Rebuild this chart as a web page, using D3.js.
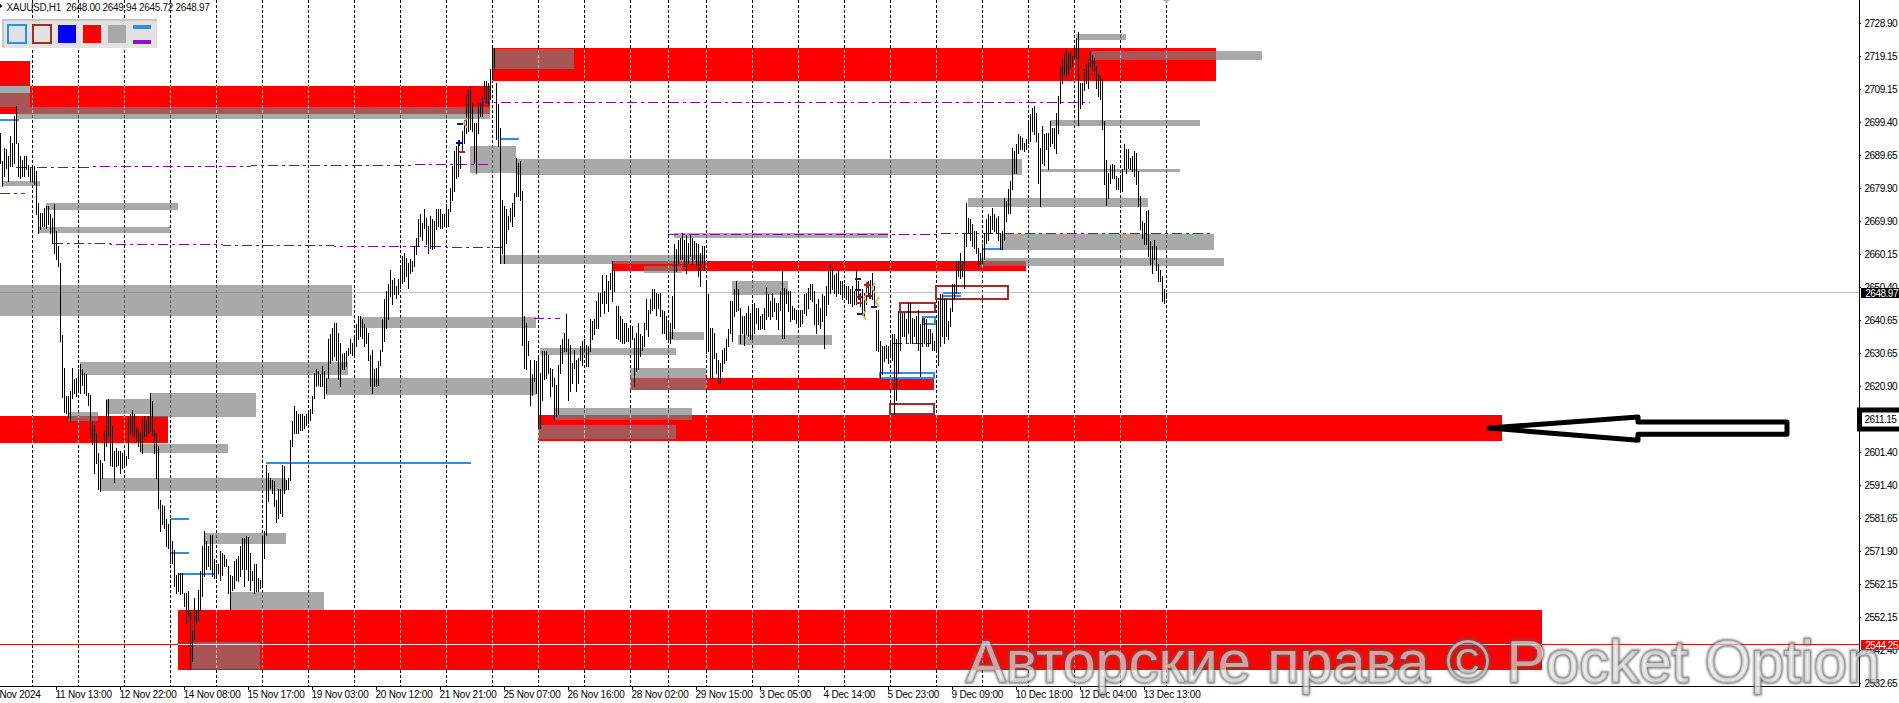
<!DOCTYPE html>
<html><head><meta charset="utf-8">
<script src="https://cdn.jsdelivr.net/npm/d3@7"></script>
<style>
html,body{margin:0;padding:0;background:#fff;overflow:hidden}
svg{display:block}
text{font-family:"Liberation Sans",Arial,sans-serif}
</style></head><body>
<script>
const barHigh=[2696.3,2687.8,2691.8,2691.3,2689.3,2695.3,2693.3,2701.2,2704.2,2693.1,2689.3,2688.3,2689.3,2689.3,2686.8,2685.8,2686.3,2686.3,2684.9,2675.4,
2672.5,2672.5,2674.0,2674.5,2674.5,2672.0,2671.0,2675.2,2667.0,2662.6,2657.6,2636.0,2626.4,2618.1,2617.9,2619.4,2626.4,2622.9,2623.4,2625.9,
2627.4,2625.9,2624.9,2624.4,2618.9,2618.4,2610.5,2609.5,2607.0,2601.1,2599.1,2598.1,2607.5,2616.9,2617.1,2612.0,2609.0,2601.6,2602.6,2601.6,
2601.6,2601.1,2601.1,2600.1,2611.5,2612.5,2613.7,2612.5,2608.5,2608.0,2607.0,2611.5,2612.0,2611.0,2612.0,2618.9,2616.4,2608.0,2607.0,2603.1,
2587.2,2585.7,2585.2,2581.3,2579.8,2581.5,2574.8,2572.3,2564.9,2565.4,2565.4,2565.4,2559.5,2559.5,2560.0,2554.5,2548.1,2558.0,2554.5,2560.4,
2565.9,2573.3,2577.8,2574.8,2573.3,2576.8,2576.8,2569.4,2567.9,2567.9,2571.8,2571.3,2570.8,2569.4,2567.4,2564.9,2564.4,2568.9,2569.4,2570.4,
2573.3,2575.8,2575.8,2576.3,2576.1,2571.3,2565.9,2567.9,2567.9,2563.9,2563.4,2576.3,2577.8,2597.6,2595.1,2593.6,2593.1,2592.7,2587.2,2590.2,
2590.2,2597.6,2597.1,2593.1,2593.6,2605.0,2610.5,2615.0,2613.5,2612.5,2612.5,2612.5,2612.0,2612.5,2613.5,2614.0,2617.9,2624.9,2625.9,2625.4,
2624.4,2626.8,2625.4,2623.4,2634.8,2636.3,2638.3,2639.6,2639.6,2636.8,2633.8,2630.5,2630.8,2631.5,2632.3,2634.8,2633.8,2635.8,2639.3,2641.8,
2641.8,2640.8,2639.3,2638.3,2636.8,2630.3,2631.8,2625.9,2626.4,2628.3,2631.8,2640.8,2646.7,2649.2,2651.2,2655.6,2652.6,2653.2,2650.7,2652.7,
2656.6,2659.6,2660.6,2659.1,2657.6,2658.6,2658.1,2662.6,2665.0,2670.5,2672.0,2669.5,2673.7,2671.0,2668.5,2671.5,2670.5,2670.0,2673.5,2673.5,
2673.7,2672.0,2672.0,2675.0,2673.5,2679.9,2686.3,2690.8,2692.3,2693.8,2689.3,2696.8,2700.2,2707.7,2709.1,2710.1,2705.2,2699.2,2699.2,2705.2,
2705.2,2707.2,2711.6,2711.6,2711.1,2715.1,2722.0,2721.5,2711.1,2704.7,2697.8,2676.4,2674.5,2673.5,2671.5,2674.0,2675.4,2678.4,2688.8,2687.3,
2688.0,2678.9,2641.8,2639.8,2634.3,2628.8,2624.4,2628.8,2628.3,2629.3,2624.9,2631.3,2631.3,2631.3,2630.3,2626.4,2625.9,2623.4,2621.4,2627.3,
2633.3,2634.8,2636.8,2642.3,2634.8,2633.3,2627.8,2631.8,2628.8,2629.3,2632.8,2634.3,2634.8,2633.3,2632.8,2640.8,2640.3,2640.8,2646.2,2648.7,
2648.7,2654.1,2649.2,2654.1,2652.2,2654.6,2658.1,2655.1,2644.7,2644.7,2641.8,2640.8,2639.8,2639.8,2638.3,2638.8,2638.8,2635.3,2636.8,2639.8,
2636.3,2635.8,2639.8,2646.7,2643.7,2646.7,2649.7,2649.7,2648.7,2648.2,2648.7,2643.7,2643.2,2641.8,2639.8,2639.8,2647.7,2663.1,2661.6,2664.5,
2665.0,2666.5,2664.5,2666.0,2663.6,2666.0,2665.0,2664.0,2663.6,2663.1,2660.6,2662.6,2662.6,2652.6,2648.2,2638.3,2638.3,2636.8,2630.8,2628.8,
2627.8,2631.8,2632.3,2634.8,2637.8,2646.2,2646.2,2649.7,2652.2,2649.7,2644.2,2641.8,2641.8,2642.7,2644.7,2642.7,2645.2,2645.7,2644.2,2644.2,
2641.8,2642.3,2644.2,2650.5,2648.2,2646.2,2648.7,2647.2,2645.7,2645.7,2649.2,2655.8,2650.2,2649.7,2649.2,2649.2,2644.7,2644.2,2643.7,2643.2,
2643.7,2643.7,2648.2,2648.7,2650.2,2651.2,2651.2,2649.2,2645.2,2646.7,2644.2,2648.2,2647.7,2650.7,2655.1,2657.1,2656.1,2654.1,2654.6,2655.4,
2652.2,2652.2,2651.2,2650.7,2650.7,2649.7,2650.7,2649.2,2655.8,2652.2,2648.7,2649.7,2648.7,2651.2,2652.2,2652.6,2654.6,2650.7,2643.7,2643.7,
2634.3,2632.8,2632.8,2633.3,2632.8,2633.8,2636.3,2636.3,2634.8,2643.2,2642.7,2642.7,2642.7,2640.8,2645.7,2645.7,2641.3,2640.8,2641.8,2643.7,
2639.3,2641.3,2641.3,2640.8,2637.8,2637.8,2636.8,2634.3,2639.8,2646.2,2648.2,2648.2,2646.7,2646.7,2640.3,2644.2,2651.2,2651.2,2658.1,2658.1,
2660.6,2658.1,2666.5,2675.4,2671.0,2670.5,2669.0,2667.0,2667.0,2662.1,2660.6,2663.1,2666.5,2670.5,2672.0,2671.5,2674.0,2672.0,2671.0,2671.5,
2666.5,2667.0,2676.9,2675.9,2679.4,2681.9,2691.8,2690.8,2692.8,2695.8,2695.3,2694.8,2693.3,2694.5,2699.2,2701.7,2703.7,2704.2,2702.2,2696.3,
2691.8,2698.2,2695.8,2696.3,2696.3,2699.7,2697.8,2697.8,2702.2,2707.2,2716.1,2718.6,2720.0,2721.2,2720.0,2720.5,2719.1,2721.5,2724.5,2726.3,
2711.1,2711.1,2715.1,2716.6,2718.1,2720.5,2719.5,2718.6,2716.1,2713.6,2713.1,2712.1,2699.7,2688.3,2684.4,2686.8,2687.1,2686.8,2683.4,2682.9,
2682.9,2685.4,2692.8,2691.3,2691.3,2688.8,2689.3,2690.8,2690.3,2684.9,2677.4,2670.0,2669.5,2673.0,2673.3,2664.0,2662.6,2664.5,2662.6,2657.1,
2655.6,2653.6,2649.9,2648.7];
const barLow=[2687.3,2680.4,2683.4,2685.9,2681.9,2686.4,2686.4,2687.3,2693.3,2683.4,2682.9,2683.4,2683.4,2685.4,2683.4,2681.9,2681.9,2680.9,2672.0,2666.5,
2667.5,2668.5,2668.5,2668.0,2669.0,2666.5,2663.6,2660.6,2658.6,2656.6,2634.3,2617.6,2613.2,2613.0,2611.5,2610.5,2617.4,2618.9,2617.9,2619.4,
2618.9,2621.4,2618.9,2618.4,2615.4,2605.5,2603.6,2595.1,2598.1,2590.4,2589.7,2593.6,2599.1,2603.1,2606.0,2597.6,2597.1,2592.4,2597.1,2597.6,
2595.1,2596.6,2597.1,2597.6,2599.6,2607.0,2606.5,2606.0,2604.6,2603.1,2601.6,2601.1,2606.0,2606.0,2607.0,2607.5,2606.5,2601.1,2593.6,2584.7,
2577.8,2579.8,2578.8,2573.3,2572.8,2568.4,2568.4,2561.4,2559.5,2560.0,2559.0,2559.5,2555.5,2550.5,2552.5,2536.9,2539.1,2545.6,2550.5,2551.5,
2554.5,2558.5,2564.4,2566.4,2567.4,2566.4,2564.4,2563.9,2563.9,2565.4,2563.4,2564.9,2567.4,2567.4,2559.5,2554.5,2560.4,2560.9,2563.4,2562.9,
2564.4,2566.4,2561.4,2566.4,2563.4,2560.4,2563.4,2559.5,2560.0,2560.0,2560.9,2561.4,2569.9,2576.8,2586.7,2590.7,2589.2,2585.2,2580.5,2581.8,
2583.2,2582.2,2589.2,2590.2,2590.2,2592.9,2603.1,2607.0,2607.0,2607.0,2608.0,2608.0,2608.5,2609.5,2610.0,2611.0,2613.0,2617.4,2620.9,2621.4,
2620.9,2620.9,2617.4,2618.9,2623.4,2627.8,2628.8,2629.8,2628.8,2622.9,2620.9,2625.9,2625.9,2626.8,2630.3,2630.8,2630.3,2630.0,2632.8,2634.8,
2635.8,2635.3,2632.8,2633.8,2628.8,2620.9,2618.9,2620.9,2620.9,2621.4,2627.3,2631.3,2634.3,2638.3,2640.8,2647.7,2645.2,2648.2,2647.2,2648.2,
2650.2,2651.7,2652.2,2653.6,2650.2,2654.6,2655.1,2656.6,2660.1,2662.6,2665.5,2664.5,2668.0,2663.1,2660.6,2662.1,2661.6,2662.1,2667.5,2668.5,
2668.0,2668.0,2668.5,2668.5,2668.5,2673.0,2676.4,2678.9,2682.9,2683.4,2685.9,2690.5,2693.3,2696.3,2696.8,2697.3,2696.8,2687.3,2684.4,2696.3,
2701.2,2701.2,2706.7,2705.2,2704.7,2706.2,2712.1,2715.1,2694.3,2692.3,2657.6,2660.6,2657.6,2663.6,2667.5,2670.0,2668.5,2671.5,2677.4,2677.4,
2676.4,2633.3,2626.4,2625.9,2630.3,2615.4,2618.4,2622.4,2618.9,2608.5,2608.5,2616.9,2622.9,2623.4,2624.9,2617.9,2620.9,2611.0,2612.0,2612.5,
2624.9,2627.8,2631.3,2631.3,2616.9,2619.4,2621.9,2626.4,2619.4,2621.9,2628.8,2627.3,2631.3,2626.8,2626.8,2631.3,2634.8,2636.3,2638.3,2638.3,
2641.8,2645.7,2642.7,2645.7,2643.2,2649.7,2646.2,2649.2,2635.3,2634.8,2634.3,2633.8,2633.8,2634.3,2634.3,2632.8,2634.8,2620.9,2625.4,2625.9,
2629.8,2631.8,2632.8,2637.8,2635.8,2642.7,2643.7,2644.2,2642.2,2644.2,2641.8,2636.8,2636.8,2634.8,2634.3,2633.8,2635.3,2638.3,2655.1,2657.6,
2658.6,2658.6,2656.6,2654.6,2657.6,2659.6,2657.1,2658.6,2656.6,2653.6,2650.7,2657.6,2655.6,2630.8,2631.3,2623.4,2623.4,2629.3,2624.9,2621.9,
2621.9,2625.4,2627.8,2628.8,2632.8,2636.8,2634.3,2641.8,2643.2,2643.7,2633.8,2636.8,2633.3,2636.3,2635.8,2634.8,2634.8,2636.8,2639.8,2637.8,
2637.8,2638.3,2637.8,2640.8,2641.8,2640.8,2641.8,2643.2,2640.8,2637.8,2643.7,2635.3,2635.3,2645.7,2643.2,2640.3,2640.8,2640.8,2639.8,2639.3,
2638.8,2639.8,2642.7,2642.2,2644.2,2646.7,2646.2,2639.3,2636.8,2639.3,2638.3,2640.3,2632.3,2642.2,2645.2,2648.7,2649.7,2648.7,2647.7,2648.7,
2648.2,2646.7,2647.7,2646.7,2645.7,2645.7,2644.7,2645.2,2645.2,2647.2,2644.7,2642.2,2641.8,2645.2,2647.7,2647.7,2646.7,2644.7,2631.8,2631.3,
2623.4,2624.4,2628.3,2629.3,2627.8,2630.3,2628.8,2612.5,2616.9,2624.9,2631.8,2635.8,2635.8,2633.8,2636.8,2633.8,2633.8,2635.8,2633.8,2631.8,
2623.9,2632.8,2633.8,2632.8,2632.8,2633.8,2631.8,2631.8,2631.8,2627.3,2632.8,2635.8,2633.8,2635.8,2634.8,2638.8,2643.2,2646.7,2648.7,2653.6,
2653.1,2653.6,2650.2,2662.6,2666.5,2664.5,2662.6,2662.1,2660.6,2656.6,2657.1,2657.6,2658.6,2663.6,2664.5,2666.5,2667.5,2667.0,2666.5,2664.5,
2661.6,2661.6,2664.5,2670.0,2672.5,2672.5,2679.4,2684.4,2684.4,2690.3,2691.3,2691.3,2690.8,2691.3,2693.3,2693.8,2696.8,2695.8,2693.8,2681.4,
2674.5,2687.3,2686.8,2691.3,2685.4,2692.3,2693.3,2691.8,2690.3,2696.3,2705.2,2711.1,2713.6,2713.1,2713.6,2715.6,2716.1,2718.6,2718.6,2698.7,
2703.7,2704.7,2709.1,2711.1,2709.6,2716.1,2715.1,2713.6,2709.6,2707.2,2706.2,2697.3,2680.9,2674.9,2676.9,2681.4,2682.9,2682.9,2679.4,2679.4,
2678.9,2678.9,2685.4,2684.4,2685.9,2685.4,2684.9,2683.4,2680.9,2674.5,2667.5,2665.0,2663.1,2663.1,2659.6,2657.1,2654.6,2658.6,2655.6,2652.2,
2652.2,2646.2,2645.7,2647.2];

const gridBars=[16,39,62,85,108,131,154,177,200,223,246,269,292,315,334,353,376,399,422,445,468,491,514,537,560,583];
const timeBars=[-4,28,60,92,124,156,188,220,252,284,316,348,380,412,444,476,508,540,572];
const timeLabels=["8 Nov 2024","11 Nov 13:00","12 Nov 22:00","14 Nov 08:00","15 Nov 17:00","19 Nov 03:00","20 Nov 12:00","21 Nov 21:00","25 Nov 07:00","26 Nov 16:00","28 Nov 02:00","29 Nov 15:00","3 Dec 05:00","4 Dec 14:00","5 Dec 23:00","9 Dec 09:00","10 Dec 18:00","12 Dec 04:00","13 Dec 13:00"];
const priceTicks=[2728.90,2719.15,2709.15,2699.40,2689.65,2679.90,2669.90,2660.15,2650.40,2640.65,2630.65,2620.90,2611.15,2601.40,2591.40,2581.65,2571.90,2562.15,2552.15,2542.40,2532.65];
const lastPrice=2648.97, alertPrice=2544.25;

// [fromBar, toBar, topPrice, bottomPrice]
const redZones=[[0,15,2717.6,2710.17],[0,15,2708.09,2701.84],[15,245,2710.17,2701.84],[246,608,2721.47,2711.65],[0,84,2612.04,2604.01],[89,771,2554.36,2536.52],[306,513,2658.13,2655.16],[315,467,2623.34,2619.77],[269,751,2612.34,2604.6]];
const grayZones=[[0,15,2710.17,2704.0],[8,245,2703.92,2700.36],[1,20,2681.92,2680.43],[23,89,2675.38,2673.3],[19,85,2668.24,2666.46],[0,176,2651.0,2641.78],[180,268,2641.48,2638.21],[235,258,2692.33,2684.3],[258,511,2688.46,2683.7],[246,287,2721.17,2715.22],[250,352,2659.92,2657.24],[322,341,2656.65,2654.56],[337,444,2666.46,2664.97],[366,394,2652.18,2648.02],[369,416,2636.13,2633.15],[334,352,2637.02,2634.64],[270,338,2632.26,2630.18],[315,353,2626.32,2619.77],[277,346,2614.42,2610.85],[269,338,2609.36,2605.2],[484,574,2676.86,2674.19],[500,607,2666.16,2661.4],[490,612,2659.03,2656.65],[538,563,2725.63,2723.85],[545,631,2720.58,2717.9],[525,600,2700.06,2698.27],[520,590,2685.49,2684.6],[40,174,2628.1,2624.23],[163,268,2623.34,2618.29],[53,75,2617.1,2612.64],[75,128,2618.88,2611.74],[34,49,2613.23,2610.55],[70,114,2603.71,2601.04],[50,143,2593.61,2589.74],[102,143,2577.25,2573.98],[115,162,2559.71,2554.36],[96,130,2544.85,2536.82]];
// [fromBar, toBar, price]
const blueLines=[[0,9.5,2700.2],[133,235.5,2598.07],[85.5,94.5,2581.4],[85.5,94.5,2571.4],[89.5,107.5,2565.06],[250.5,259.5,2694.41],[491.5,501,2661.7],[471.5,480.5,2648.7],[471.5,480.5,2647.72]];
const blueBoxes=[[461.5,467.5,2641.48,2639.4],[440,467,2624.83,2623.34]];
const brownBoxes=[[450,467.5,2645.64,2643.06],[468,504,2650.7,2646.83],[445,467,2615.61,2612.64]];
// [fromBar, toBar, startPrice, endPrice]
const purpleLines=[[8,245,2685.99,2686.97],[0,12.5,2678.26,2678.26],[26.5,251,2663.4,2662.38],[240,545,2705.32,2705.32],[334,606.5,2666.07,2666.37],[267,280,2641.27,2641.27],[446,467.5,2633.66,2633.66]];
// [bar, price, colour, kind]
const signalMarks=[[429,2652.78,"#1a1a80","dash"],[429,2649.51,"#1a1a80","dash"],[430,2642.37,"#1a1a80","dash"],[437,2644.45,"#1a1a80","dash"],[433.5,2651,"#d01818","plus"],[429.5,2647.43,"#8a1a20","plus"],[429.5,2645.64,"#d01818","dash"],[435,2647.72,"#8a1a20","plus"],[432.5,2647.13,"#e0b050","wedge"],[432,2642.07,"#e0b050","wedge"],[438.5,2645.94,"#e0b050","wedge"],[436.5,2650.1,"#e0b050","wedge"],[229.5,2693.22,"#0000c0","plus"],[230,2698.87,"#1a1a80","dash"],[231,2690.54,"#c02020","dash"],[232.5,2699.17,"#c8a050","wedge"]];
// [bar, price]
const arrowPoints=[[744.5,2608.6],[819,2611.9],[819,2610.4],[893.5,2610.4],[893.5,2606.8],[819,2606.8],[819,2605.0]];

const W=1899,H=703,plotRight=1859.5,plotBottom=686.5;
const labelFont='"Liberation Sans",Arial,sans-serif';
const x=d3.scaleLinear().domain([0,930]).range([0,1860]);
const y=d3.scaleLinear().domain([2728.90,2532.65]).range([23,683]).interpolate(d3.interpolateRound);
const yRaw=d3.scaleLinear().domain([2728.90,2532.65]).range([23.5,683.5]);
const svg=d3.select("body").append("svg").attr("width",W).attr("height",H).attr("viewBox",`0 0 ${W} ${H}`);
const defs=svg.append("defs");
const clipPlot=defs.append("clipPath").attr("id","plot");
clipPlot.append("rect").attr("width",plotRight).attr("height",plotBottom);
const clipRed=defs.append("clipPath").attr("id","reds");
clipRed.selectAll("rect").data(redZones).join("rect")
 .attr("x",d=>x(d[0])).attr("width",d=>x(d[1])-x(d[0])).attr("y",d=>y(d[2])).attr("height",d=>y(d[3])-y(d[2]));
const blur=defs.append("filter").attr("id","soft").attr("x","-5%").attr("y","-20%").attr("width","110%").attr("height","140%");
blur.append("feGaussianBlur").attr("stdDeviation",0.9);

const plot=svg.append("g").attr("clip-path","url(#plot)");
function grid(g,color){
 g.selectAll("line").data(gridBars).join("line")
  .attr("x1",d=>x(d)+.5).attr("x2",d=>x(d)+.5).attr("y1",0).attr("y2",plotBottom)
  .attr("stroke",color).attr("stroke-dasharray","3,2").attr("shape-rendering","crispEdges");
}
grid(plot.append("g"),"#000");
plot.append("line").attr("x1",0).attr("x2",plotRight).attr("y1",y(lastPrice)+.5).attr("y2",y(lastPrice)+.5).attr("stroke","#c0c0c0").attr("shape-rendering","crispEdges");
plot.append("line").attr("x1",0).attr("x2",plotRight).attr("y1",y(alertPrice)+.5).attr("y2",y(alertPrice)+.5).attr("stroke","#e01010").attr("shape-rendering","crispEdges");
const zone=(g,data)=>g.selectAll("rect").data(data).join("rect")
 .attr("x",d=>x(d[0])).attr("width",d=>x(d[1])-x(d[0])).attr("y",d=>y(d[2])).attr("height",d=>Math.max(1,y(d[3])-y(d[2])));
zone(plot.append("g"),redZones).attr("fill","#ff0000");
const overRed=plot.append("g").attr("clip-path","url(#reds)");
grid(overRed.append("g"),"#ffb4b4");
// gray boxes: #7f7f7f at .67 gives #a9a9a9 on white and #a95555 on red
zone(plot.append("g"),grayZones).attr("fill","#7f7f7f").attr("fill-opacity",.67);
overRed.raise();
overRed.append("line").attr("x1",0).attr("x2",plotRight).attr("y1",y(alertPrice)+.5).attr("y2",y(alertPrice)+.5).attr("stroke","#f4dcdc").attr("shape-rendering","crispEdges");
plot.append("g").selectAll("line").data(purpleLines).join("line")
 .attr("x1",d=>x(d[0])).attr("x2",d=>x(d[1])).attr("y1",d=>y(d[2])+.5).attr("y2",d=>y(d[3])+.5)
 .attr("stroke","#7e0c9c").attr("stroke-width",1).attr("stroke-dasharray","10,4,3,4").attr("shape-rendering","crispEdges");
plot.append("g").selectAll("line").data(blueLines).join("line")
 .attr("x1",d=>x(d[0])).attr("x2",d=>x(d[1])).attr("y1",d=>y(d[2])).attr("y2",d=>y(d[2]))
 .attr("stroke","#2e8ee8").attr("stroke-width",2).attr("shape-rendering","crispEdges");
const box=(data,color)=>plot.append("g").selectAll("rect").data(data).join("rect")
 .attr("x",d=>x(d[0])).attr("width",d=>x(d[1])-x(d[0])).attr("y",d=>y(d[2])).attr("height",d=>y(d[3])-y(d[2]))
 .attr("fill","none").attr("stroke",color).attr("stroke-width",2).attr("shape-rendering","crispEdges");
box(blueBoxes,"#2e8ee8");
box(brownBoxes,"#a52a2a");
// hour bars
plot.append("g").selectAll("line").data(barHigh.map((h,i)=>({i,h,l:barLow[i]}))).join("line")
 .attr("x1",d=>x(d.i)+.5).attr("x2",d=>x(d.i)+.5).attr("y1",d=>y(d.h)).attr("y2",d=>y(d.l)+1)
 .attr("stroke","#000").attr("shape-rendering","crispEdges");
// signal marks
plot.append("g").selectAll("path").data(signalMarks).join("path")
 .attr("transform",d=>`translate(${x(d[0])},${y(d[1])})`)
 .attr("fill","none").attr("stroke",d=>d[2]).attr("stroke-width",d=>d[3]==="wedge"?1.6:2)
 .attr("d",d=>d[3]==="plus"?"M-3 0H3M0 -3V3":d[3]==="dash"?"M-3 0H3":"M2 -5L-1 0L2 5");
// arrow annotation
plot.append("path").attr("d",d3.line().x(d=>x(d[0])).y(d=>yRaw(d[1])).curve(d3.curveLinearClosed)(arrowPoints))
 .attr("fill","#fff").attr("stroke","#000").attr("stroke-width",5).attr("stroke-linejoin","round");

// axes
const axisFont=g=>g.attr("font-family",labelFont).attr("font-size",10);
const xAxis=d3.axisBottom(x).tickValues(timeBars).tickFormat((d,i)=>timeLabels[i]).tickSize(4).tickSizeOuter(0);
const xg=svg.append("g").attr("transform",`translate(0,${plotBottom-.5})`).call(xAxis).call(axisFont);
xg.select(".domain").remove();
xg.selectAll("text").attr("text-anchor","start").attr("x",-1).attr("y",5).attr("letter-spacing",-0.2).attr("fill","#000");
const yAxis=d3.axisRight(y).tickValues(priceTicks).tickFormat(d3.format(".2f")).tickSize(2).tickPadding(3.5).tickSizeOuter(0);
const yg=svg.append("g").attr("transform",`translate(${plotRight-.5},0)`).call(yAxis).call(axisFont);
yg.select(".domain").remove();
yg.selectAll("text").attr("letter-spacing",-0.5).attr("fill","#000");
svg.append("line").attr("x1",0).attr("x2",plotRight).attr("y1",plotBottom).attr("y2",plotBottom).attr("stroke","#000");
svg.append("line").attr("x1",plotRight).attr("x2",plotRight).attr("y1",0).attr("y2",plotBottom+.5).attr("stroke","#000");

// current/alert price tags
const tags=[[lastPrice,"#000000"],[alertPrice,"#ee0000"]];
const tag=svg.selectAll("g.tag").data(tags).join("g").attr("class","tag").attr("transform",d=>`translate(1861,${y(d[0])})`);
tag.append("rect").attr("y",-4).attr("width",38).attr("height",10).attr("fill",d=>d[1]);
tag.append("text").attr("x",4.3).attr("y",4.5).attr("font-size",10).attr("letter-spacing",-0.5).attr("fill","#fff").text(d=>d3.format(".2f")(d[0]));
// hand-drawn box around the 2611.15 label
svg.append("rect").attr("x",1859.5).attr("y",y(2611.15)-9).attr("width",50).attr("height",19).attr("fill","none").attr("stroke","#000").attr("stroke-width",5);

// shift marker
svg.append("path").attr("transform",`translate(${x(583)+.5},0)`).attr("d",d3.line()([[-3.5,0],[3.5,0],[0,3]])).attr("fill","#b4b4b4");

// title
svg.append("path").attr("d","M0 4L2.5 6L0 8Z").attr("fill","#000");
svg.append("text").attr("x",6.5).attr("y",10.5).attr("font-size",10).attr("letter-spacing",-0.3).style("white-space","pre").attr("fill","#111").text("XAUUSD,H1  2648.00 2649.94 2645.72 2648.97");

// toolbar
const toolbar=svg.append("g");
toolbar.append("rect").attr("x",2).attr("y",19).attr("width",155).attr("height",29).attr("fill","#e2e2e2");
toolbar.append("path").attr("d","M3 47V20H157").attr("fill","none").attr("stroke","#c6c6c6").attr("stroke-width",2);
const swatches=[{c:"#2e8ee8",out:1},{c:"#a52a2a",out:1},{c:"#0000ff"},{c:"#ff0000"},{c:"#a9a9a9"}];
toolbar.selectAll("rect.sw").data(swatches).join("rect").attr("class","sw")
 .attr("x",(d,i)=>d.out?8+25*i:58+25*(i-2)).attr("y",25).attr("width",18).attr("height",18)
 .attr("fill",d=>d.out?"#e2e2e2":d.c).attr("stroke",d=>d.out?d.c:"none").attr("stroke-width",2);
toolbar.append("rect").attr("x",133).attr("y",25).attr("width",18).attr("height",4).attr("fill","#2e8ee8");
toolbar.append("rect").attr("x",133).attr("y",40).attr("width",18).attr("height",4).attr("fill","#9010c8");

// watermark
const markText="Авторские права © Pocket Option";
const wm=svg.append("g").attr("font-size",60);
wm.append("text").attr("x",966).attr("y",682).attr("textLength",914).attr("lengthAdjust","spacingAndGlyphs").text(markText)
 .attr("fill","none").attr("stroke","#5a5a5a").attr("stroke-width",2.8).attr("stroke-opacity",.85).attr("filter","url(#soft)");
wm.append("text").attr("x",966).attr("y",682).attr("textLength",914).attr("lengthAdjust","spacingAndGlyphs").text(markText)
 .attr("fill","#fff").attr("fill-opacity",.55);
</script>
</body></html>
